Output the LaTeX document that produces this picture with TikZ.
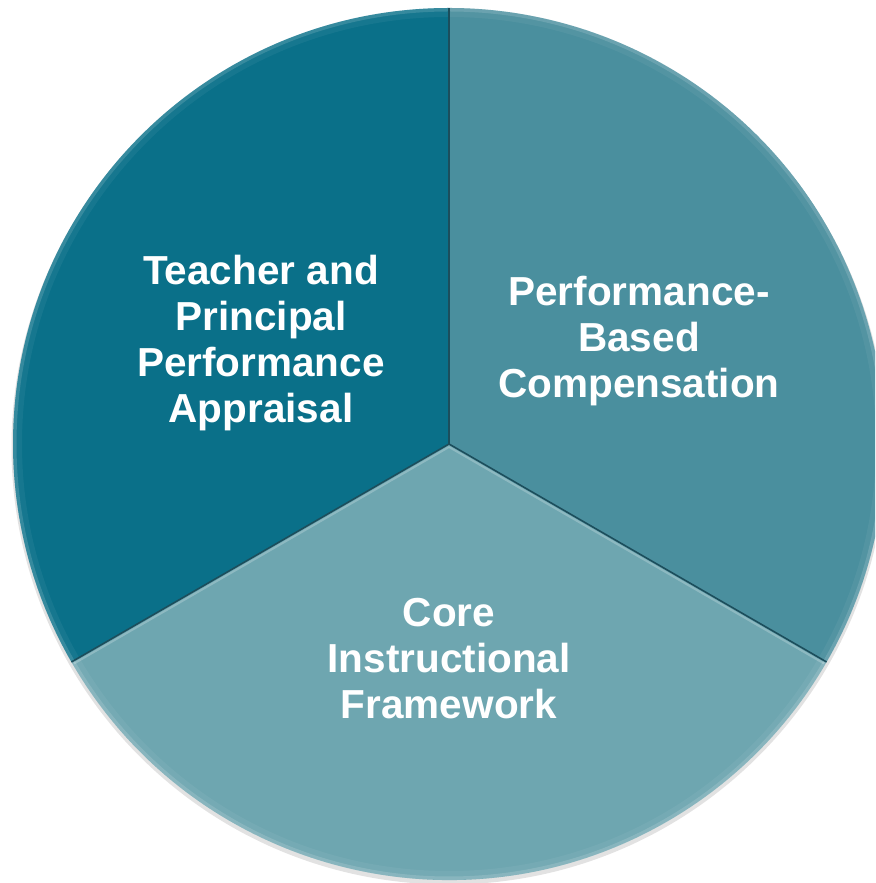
\documentclass[tikz,border=0pt]{standalone}
\usepackage{fontspec}
\setmainfont{Liberation Sans}
\usetikzlibrary{calc}
\begin{document}
\begin{tikzpicture}[x=1pt,y=1pt,
  label/.style={text=white,font=\bfseries\fontsize{40.5}{46}\selectfont,align=center,inner sep=0pt},
  spoke/.style={draw=spokecol,line width=1.6pt}]
\definecolor{darkteal}{HTML}{0A7089}
\definecolor{midteal}{HTML}{4A8F9E}
\definecolor{lightteal}{HTML}{6EA6B0}
\definecolor{spokecol}{HTML}{1C4E5C}
\useasboundingbox (0,0) rectangle (875,883);
\clip (0,0) rectangle (875,883);
\def\R{436}
\coordinate (O) at (449,439);
% soft shadow under the disc
\fill[black!25,opacity=0.45] ($(O)+(0,-3)$) circle (\R+1.5);
% the three sectors
\fill[darkteal] (O) -- ++(90:\R) arc (90:210:\R) -- cycle;
\fill[midteal] (O) -- ++(-30:\R) arc (-30:90:\R) -- cycle;
\fill[lightteal] (O) -- ++(210:\R) arc (210:330:\R) -- cycle;
% bevel along the rim
\begin{scope}
  \clip (O) circle (\R);
  \draw[white,opacity=0.14,line width=7pt] (O) circle (\R);
  \draw[white,opacity=0.05,line width=18pt] (O) circle (\R);
\end{scope}
% dividing lines
\draw[spoke] (O) -- ++(90:\R);
\draw[spoke] (O) -- ++(210:\R);
\draw[spoke] (O) -- ++(330:\R);
\draw[white,opacity=0.22,line width=2pt] ($(O)+(0,-3)$) -- ++(210:\R-3);
\draw[white,opacity=0.22,line width=2pt] ($(O)+(0,-3)$) -- ++(330:\R-3);
% labels
\node[label] (appraisal) at (261,540) {Teacher and\\Principal\\Performance\\Appraisal};
\node[label] (compensation) at (639,542) {Performance-\\Based\\Compensation};
\node[label] (framework) at (449,224) {Core\\Instructional\\Framework};
\end{tikzpicture}
\end{document}
